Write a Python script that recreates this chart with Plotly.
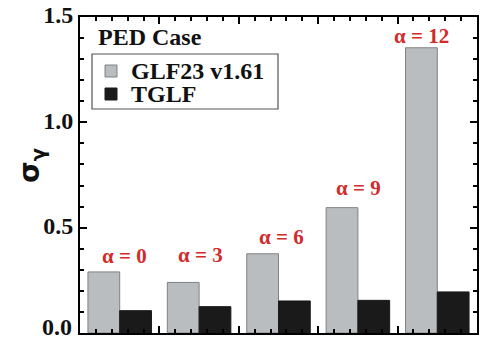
import plotly.graph_objects as go

groups = [0, 1, 2, 3, 4]
glf23 = [0.29, 0.24, 0.376, 0.595, 1.354]
tglf = [0.106, 0.125, 0.152, 0.155, 0.195]
series_names = ["GLF23 v1.61", "TGLF"]
alpha_labels = ["α = 0", "α = 3", "α = 6", "α = 9", "α = 12"]
label_x = [0.065, 1.02, 2.04, 3.005, 3.80]
label_y = [0.366, 0.372, 0.458, 0.688, 1.412]
y_ticks = [0.0, 0.5, 1.0, 1.5]

serif = "Liberation Serif"
gray = "#babdc0"
gray_edge = "#7f8285"
black = "#1a1a1a"

# plot area in pixels (for placing the legend box in paper coords)
L, R, T, B = 80, 477, 17, 333
def px(x):
    return (x - L) / (R - L)
def py(y):
    return (B - y) / (B - T)

fig = go.Figure()
fig.add_trace(go.Bar(x=groups, y=glf23, name=series_names[0], showlegend=False,
                     marker=dict(color=gray, line=dict(color=gray_edge, width=1))))
fig.add_trace(go.Bar(x=groups, y=tglf, name=series_names[1], showlegend=False,
                     marker=dict(color=black, line=dict(color=black, width=1))))

for t, x, y in zip(alpha_labels, label_x, label_y):
    fig.add_annotation(x=x, y=y, text="<b>" + t + "</b>", showarrow=False,
                       yanchor="middle", xanchor="center",
                       font=dict(family=serif, size=21, color="#d22b2b"))

fig.add_annotation(xref="paper", yref="paper", x=px(96), y=py(37), xanchor="left",
                   yanchor="middle", text="<b>PED Case</b>", showarrow=False,
                   font=dict(family=serif, size=24, color="#111"))

# legend box (manual, to match compact spacing)
fig.add_shape(type="rect", xref="paper", yref="paper", x0=px(92), x1=px(278),
              y0=py(109), y1=py(54), line=dict(color="#555", width=1.2),
              fillcolor="rgba(0,0,0,0)")
sw_colors = [(gray, gray_edge), (black, black)]
sw_rows = [(65, 77), (88, 100)]
for name, (fc, ec), (y0, y1) in zip(series_names, sw_colors, sw_rows):
    fig.add_shape(type="rect", xref="paper", yref="paper", x0=px(105), x1=px(117),
                  y0=py(y1), y1=py(y0), line=dict(color=ec, width=1), fillcolor=fc)
    fig.add_annotation(xref="paper", yref="paper", x=px(130), y=py((y0 + y1) / 2),
                       xanchor="left", yanchor="middle", showarrow=False,
                       text="<b>" + name + "</b>", height=22, borderpad=0,
                       font=dict(family=serif, size=24, color="#111"))

# y-axis title
fig.add_annotation(xref="paper", yref="paper", x=px(31), y=py(165), textangle=-90,
                   xanchor="center", yanchor="middle", showarrow=False,
                   text="<b>σ<sub>γ</sub></b>",
                   font=dict(family="DejaVu Sans", size=28, color="#111"))

# the bottom tick label sits raised above the corner, as in the original
fig.add_annotation(xref="paper", y=y_ticks[0], yref="y", x=px(73), yshift=6,
                   xanchor="right", yanchor="middle", showarrow=False,
                   height=18, borderpad=0,
                   text="<b>%.1f</b>" % y_ticks[0],
                   font=dict(family=serif, size=24, color="#111"))

fig.update_layout(
    width=481, height=337,
    margin=dict(l=L, r=481 - R, t=T, b=337 - B, autoexpand=False),
    paper_bgcolor="white", plot_bgcolor="white",
    barmode="group", bargap=0.2, bargroupgap=0,
    showlegend=False,
    xaxis=dict(range=[-0.5, 4.5], tickmode="array", tickvals=[0.5, 1.5, 2.5, 3.5],
               showticklabels=False, ticks="inside", ticklen=7, tickwidth=2, tickcolor="black",
               showline=True, linecolor="black", linewidth=2, mirror="allticks",
               showgrid=False, zeroline=False, automargin=False,
               minor=dict(tickmode="linear", tick0=-0.5, dtick=0.2, ticks="inside",
                          ticklen=4, tickwidth=1.5, tickcolor="black", showgrid=False)),
    yaxis=dict(range=[0, 1.5], tickmode="array", tickvals=y_ticks,
               ticktext=[""] + ["<b>%.1f</b>" % v for v in y_ticks[1:]],
               tickfont=dict(family=serif, size=24, color="#111"),
               ticklabelshift=-2, ticklabeloverflow="allow", automargin=False,
               ticks="inside", ticklen=7, tickwidth=2, tickcolor="black",
               showline=True, linecolor="black", linewidth=2, mirror="allticks",
               showgrid=False, zeroline=False,
               minor=dict(tickmode="linear", tick0=0, dtick=0.1, ticks="inside",
                          ticklen=4, tickwidth=1.5, tickcolor="black", showgrid=False)),
)
fig.write_html("out.html")
